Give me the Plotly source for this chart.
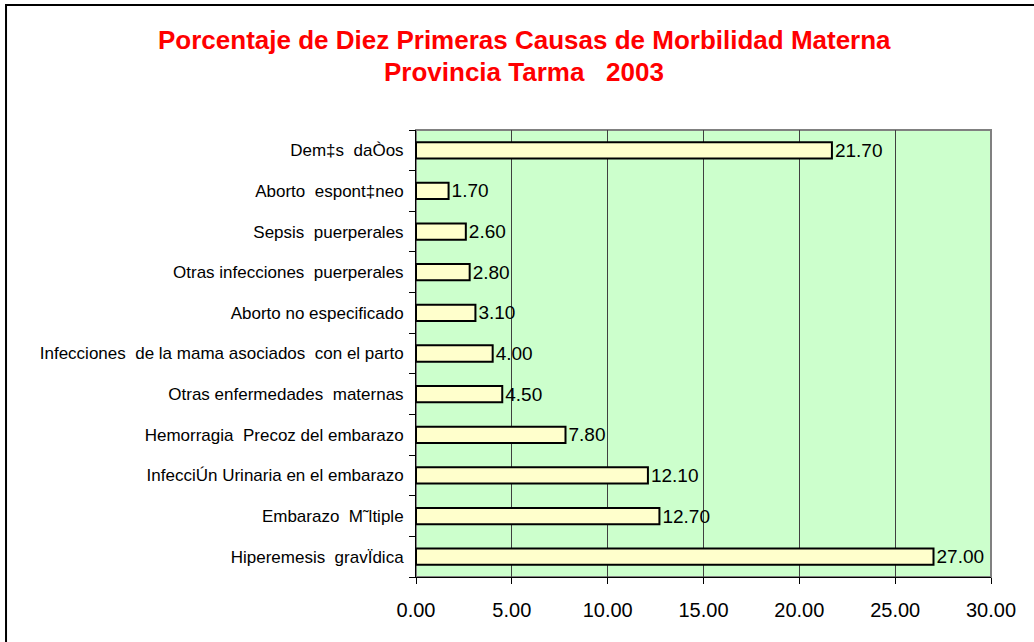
"""Horizontal bar chart: ten leading causes of maternal morbidity, Tarma 2003."""

import plotly.graph_objects as go

# bottom -> top, as the categories stack on the y axis
causes = [
    "Hiperemesis  gravÏdica",
    "Embarazo  M˜ltiple",
    "InfecciÚn Urinaria en el embarazo",
    "Hemorragia  Precoz del embarazo",
    "Otras enfermedades  maternas",
    "Infecciones  de la mama asociados  con el parto",
    "Aborto no especificado",
    "Otras infecciones  puerperales",
    "Sepsis  puerperales",
    "Aborto  espont‡neo",
    "Dem‡s  daÒos",
]
percent = [27.00, 12.70, 12.10, 7.80, 4.50, 4.00, 3.10, 2.80, 2.60, 1.70, 21.70]

x_ticks = [0, 5, 10, 15, 20, 25, 30]

title_lines = [
    "Porcentaje de Diez Primeras Causas de Morbilidad Materna",
    "Provincia Tarma   2003",
]

FONT = "Arial, 'Liberation Sans', sans-serif"

# keep doubled spaces visible in SVG text
labels = [c.replace("  ", " \u00a0") for c in causes]

fig = go.Figure(
    go.Bar(
        x=percent,
        y=labels,
        orientation="h",
        marker=dict(color="#FFFFCC", line=dict(color="#000000", width=2)),
        texttemplate="%{x:.2f}",
        textposition="outside",
        constraintext="none",
        textfont=dict(size=19, color="#000000", family=FONT),
        cliponaxis=False,
        hoverinfo="skip",
    )
)

# two centred title lines placed by hand (paper coords relative to plot area)
for text, ypos in zip(title_lines, [1.2013, 1.1298]):
    fig.add_annotation(
        text=text.replace("   ", "\u00a0\u00a0 "),
        xref="paper", yref="paper", x=0.188, y=ypos,
        xanchor="center", yanchor="middle", showarrow=False,
        font=dict(size=26, color="#FF0000", family=FONT, weight="bold"),
    )

fig.update_layout(
    width=1034,
    height=642,
    margin=dict(l=416, r=43, t=130, b=65),
    paper_bgcolor="#FFFFFF",
    plot_bgcolor="#CCFFCC",
    bargap=0.6,
    showlegend=False,
    font=dict(family=FONT, color="#000000"),
    shapes=[
        # plot-area border (grey, top/right visible)
        dict(type="rect", xref="paper", yref="paper", x0=0, x1=1, y0=0, y1=1,
             line=dict(color="#808080", width=2), layer="below"),
        # outer chart frame
        dict(type="rect", xref="paper", yref="paper", x0=-0.713, x1=1.09, y0=-0.17, y1=1.2796,
             line=dict(color="#000000", width=2), layer="below"),
    ],
)

fig.update_xaxes(
    range=[0, 30],
    tickvals=x_ticks,
    tickformat=".2f",
    showgrid=True,
    gridcolor="#404040",
    gridwidth=1,
    zeroline=False,
    showline=True,
    linecolor="#000000",
    linewidth=1,
    ticks="outside",
    ticklen=6,
    tickcolor="#000000",
    ticklabelstandoff=9,
    tickfont=dict(size=20, color="#000000"),
)

fig.update_yaxes(
    categoryorder="array",
    categoryarray=labels,
    showgrid=False,
    showline=True,
    linecolor="#000000",
    linewidth=1,
    ticks="outside",
    tickson="boundaries",
    ticklen=6,
    tickcolor="#000000",
    ticklabelstandoff=8,
    tickfont=dict(size=17, color="#000000"),
)

fig.write_html(
    "out.html",
    config={"displayModeBar": False},
    post_script="document.body.style.margin='0';",
)
